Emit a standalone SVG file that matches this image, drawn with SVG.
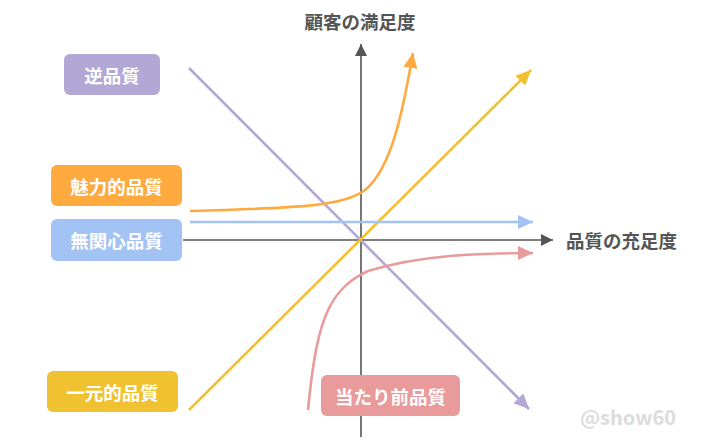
<svg xmlns="http://www.w3.org/2000/svg" width="719" height="447" viewBox="0 0 719 447">
<style>
text{font-family:"Noto Sans CJK JP","Noto Sans",sans-serif;font-weight:bold}
.lbl{fill:#fff;font-size:18.5px;text-anchor:middle;dominant-baseline:central}
.ax{fill:#555;font-size:18.5px;dominant-baseline:central}
.line{fill:none;stroke-width:2.6}
</style>
<defs>
<marker id="mAx" markerUnits="userSpaceOnUse" markerWidth="14" markerHeight="12" refX="12" refY="6" orient="auto"><path d="M0,0 L12,6 L0,12 Z" fill="#555"/></marker>
<marker id="mP" markerUnits="userSpaceOnUse" markerWidth="16" markerHeight="14" refX="15" refY="7" orient="auto"><path d="M0,0 L15,7 L0,14 Z" fill="#b3a7d6"/></marker>
<marker id="mO" markerUnits="userSpaceOnUse" markerWidth="16" markerHeight="14" refX="15" refY="7" orient="auto"><path d="M0,0 L15,7 L0,14 Z" fill="#ffaa3f"/></marker>
<marker id="mB" markerUnits="userSpaceOnUse" markerWidth="16" markerHeight="14" refX="15" refY="7" orient="auto"><path d="M0,0 L15,7 L0,14 Z" fill="#a4c3f5"/></marker>
<marker id="mY" markerUnits="userSpaceOnUse" markerWidth="16" markerHeight="14" refX="15" refY="7" orient="auto"><path d="M0,0 L15,7 L0,14 Z" fill="#f0c232"/></marker>
<marker id="mR" markerUnits="userSpaceOnUse" markerWidth="16" markerHeight="14" refX="15" refY="7" orient="auto"><path d="M0,0 L15,7 L0,14 Z" fill="#e99a9a"/></marker>
</defs>
<rect width="719" height="447" fill="#fff"/>
<g id="connectors">
<line x1="361" y1="437" x2="361" y2="44" stroke="#555" stroke-width="1.6" marker-end="url(#mAx)"/>
<line x1="183" y1="240" x2="553" y2="240" stroke="#555" stroke-width="1.6" marker-end="url(#mAx)"/>
<line class="line" x1="189" y1="68" x2="529" y2="409" stroke="#b3a7d6" marker-end="url(#mP)"/>
<line class="line" x1="189" y1="410" x2="531" y2="70" stroke="#f0c232" marker-end="url(#mY)"/>
<line class="line" x1="190" y1="222" x2="533" y2="222" stroke="#a4c3f5" marker-end="url(#mB)"/>
<path class="line" d="M190,211 C300,208 345,206 365,190 C392,168 403,110 413,53" stroke="#ffaa3f" marker-end="url(#mO)"/>
<path class="line" d="M308,410 C316,330 325,290 368,271 C420,255 480,253 533,253" stroke="#e99a9a" marker-end="url(#mR)"/>
</g>
<g id="axis-y-label"><text class="ax" x="360" y="21" text-anchor="middle">顧客の満足度</text></g>
<g id="axis-x-label"><text class="ax" x="566" y="240">品質の充足度</text></g>
<g id="reverse"><rect x="64" y="54" width="96" height="41" rx="6" fill="#b3a7d6"/><text class="lbl" x="112" y="74.5">逆品質</text></g>
<g id="attractive"><rect x="51" y="165" width="131" height="41" rx="6" fill="#ffaa3f"/><text class="lbl" x="116.5" y="185.5">魅力的品質</text></g>
<g id="indifferent"><rect x="51" y="219" width="131" height="42" rx="6" fill="#a4c3f5"/><text class="lbl" x="116.5" y="240">無関心品質</text></g>
<g id="one-dimensional"><rect x="47" y="371" width="131" height="41" rx="6" fill="#f0c232"/><text class="lbl" x="112.5" y="391.5">一元的品質</text></g>
<g id="must-be"><rect x="321" y="375" width="139" height="41" rx="6" fill="#e99a9a"/><text class="lbl" x="390.5" y="395.5">当たり前品質</text></g>
<g id="watermark"><text x="628" y="416" font-size="20" fill="#dcdcdc" text-anchor="middle" dominant-baseline="central">@show60</text></g>
</svg>
